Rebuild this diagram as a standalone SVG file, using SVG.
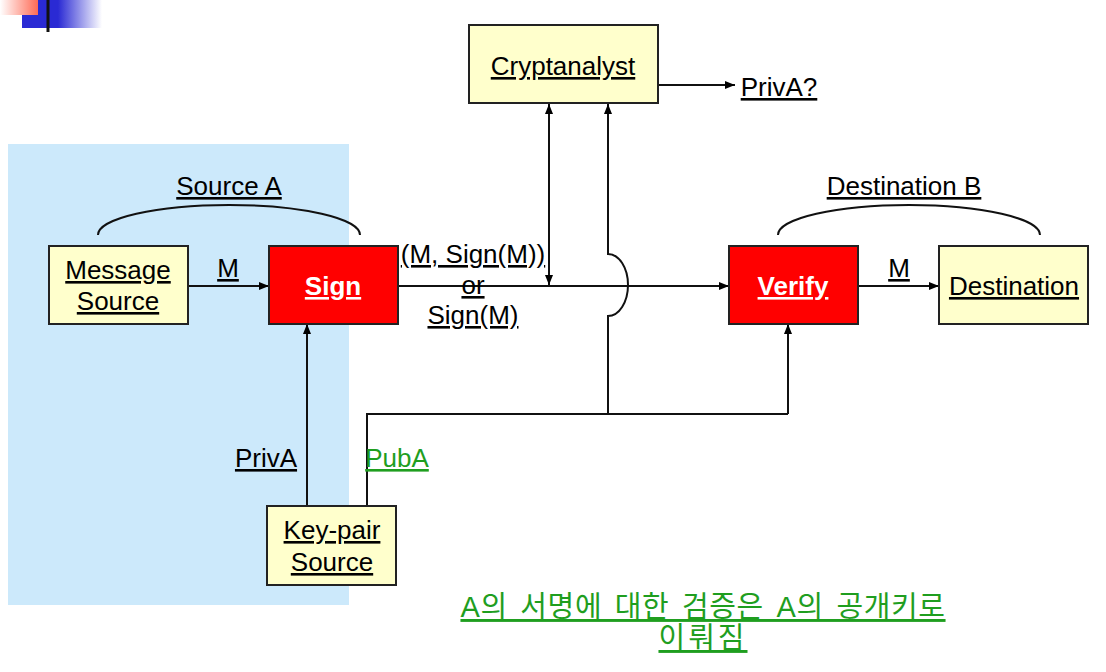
<svg xmlns="http://www.w3.org/2000/svg" width="1106" height="672" viewBox="0 0 1106 672">
<defs>
<linearGradient id="gRed" x1="0" y1="0" x2="38" y2="0" gradientUnits="userSpaceOnUse">
<stop offset="0" stop-color="#ffffff"/><stop offset="1" stop-color="#ff6a55"/>
</linearGradient>
<linearGradient id="gBlue" x1="22" y1="0" x2="102" y2="0" gradientUnits="userSpaceOnUse">
<stop offset="0" stop-color="#2a2ad4"/><stop offset="0.45" stop-color="#2a2ad4"/><stop offset="1" stop-color="#ffffff"/>
</linearGradient>
<marker id="ah" viewBox="0 0 10 10" refX="10" refY="5" markerWidth="10" markerHeight="10" markerUnits="userSpaceOnUse" orient="auto-start-reverse">
<path d="M0,1 L10,5 L0,9 z" fill="#000"/>
</marker>
<style>
.t{font-family:"Liberation Sans",Arial,sans-serif;font-size:26px;fill:#000;text-decoration:underline;text-anchor:middle}
.w{fill:#fff;font-weight:bold}
.g{fill:#1f9e1f}
.k{font-family:"Liberation Sans","Noto Sans CJK KR",sans-serif;font-size:29px;fill:#1f9e1f;text-decoration:underline;text-anchor:middle}
.box{fill:#ffffcc;stroke:#222;stroke-width:2}
.red{fill:#ff0000;stroke:#222;stroke-width:2}
.ln{fill:none;stroke:#111;stroke-width:2}
.arr{fill:none;stroke:#111;stroke-width:2;marker-end:url(#ah)}
</style>
</defs>
<rect width="1106" height="672" fill="#fff"/>
<g id="decoration">
<rect x="0" y="0" width="38" height="15" fill="url(#gRed)"/>
<path d="M38 0 H102 V28 H22 V15 H38 Z" fill="url(#gBlue)"/>
<line x1="48" y1="0" x2="48" y2="32" stroke="#111" stroke-width="3"/>
</g>
<rect id="sourceA-area" x="8" y="144" width="341" height="461" fill="#cce9fb"/>
<g id="connectors">
<path class="ln" d="M98 235 A131 30 0 0 1 360 235"/>
<path class="ln" d="M778 235 A131 30 0 0 1 1040 235"/>
<line class="arr" x1="188" y1="286" x2="269" y2="286"/>
<line class="arr" x1="398" y1="286" x2="729" y2="286"/>
<line class="arr" x1="858" y1="286" x2="939" y2="286"/>
<line class="arr" x1="659" y1="85" x2="735" y2="85"/>
<line class="arr" x1="549" y1="285" x2="549" y2="104" style="marker-start:url(#ah)"/>
<path class="arr" d="M608 414 V316 A20 31 0 0 0 608 254 V104"/>
<line class="arr" x1="307" y1="506" x2="307" y2="324"/>
<path class="ln" d="M367 506 V414 H788"/>
<line class="arr" x1="788" y1="414" x2="788" y2="324"/>
</g>
<g id="cryptanalyst">
<rect class="box" x="469" y="25" width="189" height="78"/>
<text class="t" x="563" y="75">Cryptanalyst</text>
</g>
<g id="message-source">
<rect class="box" x="49" y="246" width="139" height="78"/>
<text class="t" x="118" y="279">Message</text>
<text class="t" x="118" y="310">Source</text>
</g>
<g id="sign">
<rect class="red" x="269" y="246" width="129" height="78"/>
<text class="t w" x="333" y="295">Sign</text>
</g>
<g id="verify">
<rect class="red" x="729" y="246" width="129" height="78"/>
<text class="t w" x="793" y="295">Verify</text>
</g>
<g id="destination">
<rect class="box" x="939" y="246" width="149" height="78"/>
<text class="t" x="1014" y="295">Destination</text>
</g>
<g id="key-pair-source">
<rect class="box" x="267" y="506" width="129" height="79"/>
<text class="t" x="332" y="539">Key-pair</text>
<text class="t" x="332" y="571">Source</text>
</g>
<g id="labels">
<text class="t" x="229" y="195">Source A</text>
<text class="t" x="904" y="195">Destination B</text>
<text class="t" x="228" y="277">M</text>
<text class="t" x="899" y="277">M</text>
<text class="t" x="473" y="263">(M, Sign(M))</text>
<text class="t" x="473" y="294">or</text>
<text class="t" x="473" y="324">Sign(M)</text>
<text class="t" x="779" y="96">PrivA?</text>
<text class="t" x="266" y="467">PrivA</text>
<text class="t g" x="397" y="467">PubA</text>
<text class="k" x="703" y="617" word-spacing="4" letter-spacing="0.6">A의 서명에 대한 검증은 A의 공개키로</text>
<text class="k" x="703" y="648" letter-spacing="3">이뤄짐</text>
</g>
</svg>
